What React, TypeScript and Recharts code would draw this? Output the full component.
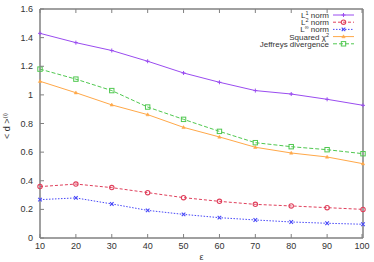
import React from 'react';
import { LineChart, Line, XAxis, YAxis } from 'recharts';

const epsilon = [10, 20, 30, 40, 50, 60, 70, 80, 90, 100];
const l1Norm = [1.43, 1.365, 1.31, 1.235, 1.153, 1.088, 1.03, 1.006, 0.969, 0.927];
const l2Norm = [0.359, 0.377, 0.352, 0.317, 0.282, 0.256, 0.235, 0.224, 0.212, 0.2];
const lInfNorm = [0.268, 0.28, 0.238, 0.193, 0.165, 0.142, 0.126, 0.112, 0.103, 0.096];
const squaredChi2 = [1.095, 1.015, 0.93, 0.862, 0.773, 0.706, 0.634, 0.594, 0.566, 0.519];
const jeffreys = [1.18, 1.11, 1.03, 0.915, 0.829, 0.745, 0.666, 0.638, 0.617, 0.589];

const xTicks = [10, 20, 30, 40, 50, 60, 70, 80, 90, 100];
const yTicks = [0, 0.2, 0.4, 0.6, 0.8, 1, 1.2, 1.4, 1.6];

const data = epsilon.map((e, i) => ({
  eps: e,
  l1: l1Norm[i],
  l2: l2Norm[i],
  linf: lInfNorm[i],
  chi2: squaredChi2[i],
  jeff: jeffreys[i],
}));

const FONT = '"Liberation Sans", Arial, sans-serif';
const AXIS = '#808080';
const TXT = '#333';

const C = {
  l1: '#9a4cf0',
  l2: '#e0405c',
  linf: '#4848f8',
  chi2: '#ffa848',
  jeff: '#50c850',
};

const PlusDot = (p: any) => (
  <path key={p.key} d={`M${p.cx - 2},${p.cy}h4M${p.cx},${p.cy - 2}v4`} stroke={C.l1} strokeWidth={1} />
);
const CircleDot = (p: any) => (
  <circle key={p.key} cx={p.cx} cy={p.cy} r={2.2} fill="none" stroke={C.l2} strokeWidth={1.1} />
);
const CrossDot = (p: any) => (
  <path key={p.key} d={`M${p.cx - 1.8},${p.cy - 1.8}l3.6,3.6M${p.cx - 1.8},${p.cy + 1.8}l3.6,-3.6`} stroke={C.linf} strokeWidth={1.1} />
);
const TriDot = (p: any) => (
  <path key={p.key} d={`M${p.cx},${p.cy - 1.8}l1.7,3h-3.4z`} fill={C.chi2} stroke={C.chi2} strokeWidth={0.5} />
);
const SquareDot = (p: any) => (
  <rect key={p.key} x={p.cx - 2.2} y={p.cy - 2.2} width={4.4} height={4.4} fill="none" stroke={C.jeff} strokeWidth={1} />
);

const series = [
  { key: 'l1', base: 'L', sup: '1', tail: ' norm', dash: undefined, Dot: PlusDot },
  { key: 'l2', base: 'L', sup: '2', tail: ' norm', dash: '3 2', Dot: CircleDot },
  { key: 'linf', base: 'L', sup: '\u221e', tail: ' norm', dash: '1.5 1.5', Dot: CrossDot },
  { key: 'chi2', base: 'Squared \u03c7', sup: '2', tail: '', dash: undefined, Dot: TriDot },
  { key: 'jeff', base: 'Jeffreys divergence', sup: '', tail: '', dash: '4 2', Dot: SquareDot },
];

// inward ticks, gnuplot style
const BottomTick = (p: any) => (
  <g>
    <line x1={p.x} x2={p.x} y1={p.y} y2={p.y - 4} stroke={AXIS} />
    <text x={p.x} y={p.y + 11} textAnchor="middle" fontSize={9} fontFamily={FONT} fill={TXT}>
      {p.payload.value}
    </text>
  </g>
);
const TopTick = (p: any) => <line x1={p.x} x2={p.x} y1={p.y} y2={p.y + 4} stroke={AXIS} />;
const LeftTick = (p: any) => (
  <g>
    <line x1={p.x} x2={p.x + 4} y1={p.y} y2={p.y} stroke={AXIS} />
    <text x={p.x - 7} y={p.y + 3} textAnchor="end" fontSize={9} fontFamily={FONT} fill={TXT}>
      {p.payload.value}
    </text>
  </g>
);
const RightTick = (p: any) => <line x1={p.x} x2={p.x - 4} y1={p.y} y2={p.y} stroke={AXIS} />;

const LegendBox = () => (
  <svg width={140} height={44} style={{ position: 'absolute', left: 220, top: 8, overflow: 'visible' }}>
    {series.map((s, i) => {
      const y = 7 + i * 7.2;
      const col = (C as any)[s.key];
      const D = s.Dot;
      return (
        <g key={s.key}>
          <text x={109} y={y + 3} textAnchor="end" fontSize={8} fontFamily={FONT} fill={TXT}>
            {s.base}
            {s.sup && (
              <tspan dy={-3} fontSize={5.5}>
                {s.sup}
              </tspan>
            )}
            {s.tail && <tspan dy={3}>{s.tail}</tspan>}
          </text>
          <line x1={113} x2={134} y1={y} y2={y} stroke={col} strokeWidth={1} strokeDasharray={s.dash} />
          <D cx={123.5} cy={y} />
        </g>
      );
    })}
  </svg>
);

const YLabel = () => (
  <text transform="translate(10,126) rotate(-90)" textAnchor="middle" fontSize={9} fontFamily={FONT} fill={TXT}>
    {'< d >'}
    <tspan dy={-3} fontSize={6}>(i)</tspan>
  </text>
);

export default function App() {
  return (
    <div style={{ position: 'absolute', left: 0, top: 0, width: 374, height: 262, background: '#fff' }}>
      <LineChart width={374} height={262} data={data} margin={{ top: 8, right: 10, bottom: 4, left: 10 }}>
        <XAxis
          dataKey="eps"
          type="number"
          domain={[10, 100]}
          ticks={xTicks}
          height={20}
          axisLine={{ stroke: AXIS, strokeWidth: 1.5 }}
          tickLine={false}
          tickSize={0}
          tickMargin={0}
          tick={<BottomTick />}
          label={{ value: '\u03b5', position: 'insideBottom', offset: -2, fontSize: 9, fontFamily: FONT, fill: TXT }}
        />
        <XAxis
          xAxisId="top"
          dataKey="eps"
          type="number"
          orientation="top"
          domain={[10, 100]}
          ticks={xTicks}
          height={1}
          axisLine={{ stroke: AXIS, strokeWidth: 1.5 }}
          tickLine={false}
          tickSize={0}
          tickMargin={0}
          tick={<TopTick />}
        />
        <YAxis
          type="number"
          domain={[0, 1.6]}
          ticks={yTicks}
          width={30}
          axisLine={{ stroke: AXIS, strokeWidth: 1.5 }}
          tickLine={false}
          tickSize={0}
          tickMargin={0}
          tick={<LeftTick />}
          label={<YLabel />}
        />
        <YAxis
          yAxisId="right"
          orientation="right"
          type="number"
          domain={[0, 1.6]}
          ticks={yTicks}
          width={1}
          axisLine={{ stroke: AXIS, strokeWidth: 1.5 }}
          tickLine={false}
          tickSize={0}
          tickMargin={0}
          tick={<RightTick />}
        />
        {series.map((s) => (
          <Line
            key={s.key}
            dataKey={s.key}
            stroke={(C as any)[s.key]}
            strokeWidth={1}
            strokeDasharray={s.dash}
            dot={s.Dot}
            activeDot={false}
            isAnimationActive={false}
          />
        ))}
      </LineChart>
      <LegendBox />
    </div>
  );
}
